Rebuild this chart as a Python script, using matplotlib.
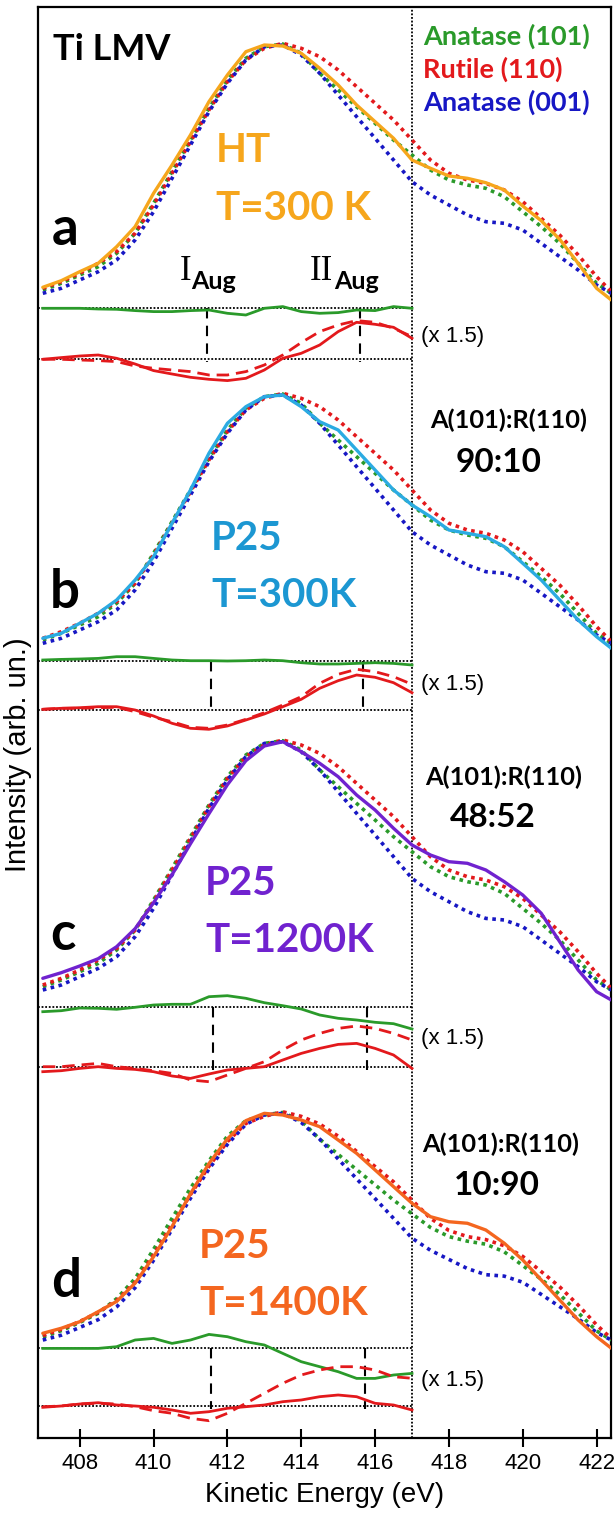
import numpy as np
import matplotlib
matplotlib.use("Agg")
import matplotlib.pyplot as plt

# ---------------- data ----------------
energy = [407.0, 407.5, 408.0, 408.5, 409.0, 409.5, 410.0, 410.5, 411.0, 411.5,
          412.0, 412.5, 413.0, 413.5, 414.0, 414.5, 415.0, 415.5, 416.0, 416.5,
          417.0, 417.5, 418.0, 418.5, 419.0, 419.5, 420.0, 420.5, 421.0, 421.5,
          422.0, 422.4]

# reference spectra as drawn in panels a-c
anatase101 = [5, 11.7, 20, 28.3, 41.7, 61.7, 91.7, 123.3, 155, 186.7, 215, 236.7, 248.3, 251,
              241.7, 221.7, 205, 188.3, 171.7, 155, 140, 125, 115, 110, 106.7, 98.3, 83.3,
              68.3, 51.7, 31.7, 11.7, 1.7]
rutile110 = [6.7, 13.3, 21.7, 31.7, 43.3, 61.7, 90, 121.7, 153.3, 185, 213.3, 235, 246.7, 251.7,
             246.7, 238.3, 225, 208.3, 191.7, 175, 155, 135, 121.7, 115, 111.7, 105, 93.3,
             76.7, 60, 40, 18.3, 3.3]
anatase001 = [1.7, 6.7, 15, 23.3, 35, 55, 83.3, 116.7, 150, 183.3, 211.7, 235, 248.3, 250,
              240, 221.7, 200, 178.3, 156.7, 135, 113.3, 100, 90, 80, 73.3, 71.7, 65,
              51.7, 38.3, 25, 10, 1.7]

# reference spectra as drawn in panel d
anatase101_d = [5, 12, 21, 31, 47, 69, 101, 135, 168, 198, 225, 242, 248.3, 251,
                241.7, 221.7, 205, 188.3, 171.7, 155, 140, 125, 115, 110, 106.7, 98.3, 83.3,
                68.3, 51.7, 31.7, 11.7, 1.7]
rutile110_d = [6.7, 13.5, 22, 32, 45, 65, 95, 128, 161, 192, 219, 239, 246.7, 251.7,
               246.7, 238.3, 225, 208.3, 191.7, 175, 155, 135, 121.7, 115, 111.7, 105, 93.3,
               76.7, 60, 40, 18.3, 3.3]
anatase001_d = [1.7, 7, 15.5, 24, 38, 59, 89, 123, 157, 189, 216, 238, 248.3, 250,
                240, 221.7, 200, 178.3, 156.7, 135, 113.3, 100, 90, 80, 73.3, 71.7, 65,
                51.7, 38.3, 25, 10, 1.7]

ht_300K = [7.7, 14.3, 23.3, 31.7, 48.3, 68.3, 101.7, 130, 160, 193.3, 220, 243.3, 250, 249,
           241.7, 226.7, 210, 190, 173.3, 156.7, 135, 126.7, 119, 116.7, 112.3, 105, 89,
           74.3, 55.7, 31.7, 6.7, -5]
p25_300K = [6.7, 11.7, 21.7, 31.7, 45, 65, 88.3, 121.7, 155, 191.7, 221.7, 238.3, 248.3, 250,
            238.3, 223.3, 215, 195, 175, 155, 140, 128.3, 115, 111.7, 108.3, 98.3, 81.7,
            65, 45, 25, 8.3, -3.3]
p25_1200K = [13.4, 19, 25.7, 33, 45, 63, 89, 117, 148, 178, 207, 231, 245.7, 250,
             240, 228.4, 215, 196.7, 181.7, 163.4, 146.7, 136.7, 130, 128.4, 121.7, 110, 96.7,
             78.4, 50, 21.7, 0, -8.3]
p25_1400K = [9.1, 14.6, 21.8, 32.8, 44, 64, 93, 126, 162, 195, 222, 242, 250,
             248.2, 242.7, 235.4, 220.8, 206.2, 188, 169.7, 151.5, 136.8, 131.3, 129.6, 122.2,
             107.7, 89.4, 67.5, 45.6, 23.7, 5.4, -7.3]

diff_energy = [407.0, 407.5, 408.0, 408.5, 409.0, 409.5, 410.0, 410.5, 411.0, 411.5, 412.0,
               412.5, 413.0, 413.5, 414.0, 414.5, 415.0, 415.5, 416.0, 416.5, 417.0]

diff_a_anatase = [0, 0, 0, -0.7, -1, -2.3, -3.3, -3.3, -2.3, -1.7, -5, -6.7, 0, 1.7, -3.3, -5,
                  -4.3, -1.7, -2.3, 1.7, 0]
diff_a_rutile = [0, 1.7, 3.3, 4.3, 1, -4.7, -11.3, -14.7, -18, -20, -21.3, -19, -10.7, 1, 6,
                 14.3, 27.7, 37, 35, 32, 21]
diff_a_rutile_fit = [0, 0, -0.7, -1.3, -2.3, -6.7, -9, -10.7, -12.3, -15.7, -15.7, -12.3, -5.7,
                     4.3, 16.7, 27.7, 34.3, 38.7, 37, 31, 22.7]

diff_b_anatase = [0.7, 1.3, 1.7, 2.3, 4, 4, 2.3, 0.7, 0, 0, -0.3, 0, 0.7, 0, -2, -3.3, -3.3,
                  -2.7, -2, -2.7, -4.3]
diff_b_rutile = [0.7, 1.7, 2.3, 3.3, 3.3, 0, -6, -13.3, -18.3, -19.3, -16, -10, -4, 3.3, 10.7,
                 21.7, 29.3, 35, 32.7, 27.3, 17.3]
diff_b_rutile_fit = [0.7, 1.7, 1.7, 2.3, 2.7, -1.7, -7.3, -11.7, -17.3, -18.3, -15, -9.3, -2.7,
                     5, 13.3, 26.7, 35.7, 40.7, 38.3, 33.3, 25.7]

diff_c_anatase = [-4.7, -3.7, -1, -1.3, -2.3, -0.3, 2, 2.7, 2.7, 10.3, 11.3, 8.7, 4.3, 1.3, -2,
                  -8, -11.3, -13, -15.3, -16.7, -22]
diff_c_rutile = [-5, -4, -1.7, 0, -1.7, -2.7, -5, -9.3, -11.7, -7.3, -3.3, -1.7, 0, 6.7, 13.3,
                 18.3, 22.3, 23.3, 18.3, 11.7, -1.7]
diff_c_rutile_fit = [0, 0, 1.7, 3.3, 0, -1.7, -4, -6.7, -13.3, -15, -8.3, -1.7, 5, 16.7, 26.7,
                     33.3, 38.3, 40.7, 38.3, 33.3, 26.7]

diff_d_anatase = [-0.7, -0.7, -0.7, -0.7, 1, 7.7, 9.3, 4.3, 7.7, 13.3, 11, 6, 2.7, -5.7, -14,
                  -19, -24, -30.7, -30.7, -27.3, -25.7]
diff_d_rutile = [-1.3, 0, 2, 3.3, 1, 0, -1.3, -4, -7.3, -5.7, -2.3, -0.7, 1, 4.3, 6, 9.3, 11,
                 9.3, 2.7, 1, -4]
diff_d_rutile_fit = [-0.7, 0, 2, 2.7, 2, -0.7, -4.7, -7.3, -12.3, -14.7, -7.3, 2.7, 12.7, 22.7,
                     31, 36, 39.3, 39.3, 36, 29.3, 27.7]

auger_I = [411.45, 411.55, 411.62, 411.55]
auger_II = [415.6, 415.66, 415.77, 415.72]

panel_letters = ["a", "b", "c", "d"]
sample_names = ["HT", "P25", "P25", "P25"]
sample_temps = ["T=300 K", "T=300K", "T=1200K", "T=1400K"]
ratios = [None, "90:10", "48:52", "10:90"]
xticks = [408, 410, 412, 414, 416, 418, 420, 422]

# ---------------- styling / layout ----------------
W, H = 616, 1521
C_GREEN = "#2A9A2A"
C_RED = "#E3191C"
C_BLUE = "#1717C4"
sample_colors = ["#F6A61C", "#2BABE2", "#7022CF", "#F4661F"]
text_colors = ["#F6A61C", "#1C97D2", "#7022CF", "#F4661F"]

spec_offset = [1143, 793, 446.3, 96.4]
spec_scale = [1.0, 1.0, 1.0, 0.913]
green_base = [1129.7, 777.3, 431, 90.3]
red_base = [1078.7, 728, 371.3, 32]

samples = [ht_300K, p25_300K, p25_1200K, p25_1400K]
refs = [(anatase101, rutile110, anatase001)] * 3 + [(anatase101_d, rutile110_d, anatase001_d)]
diffs = [(diff_a_anatase, diff_a_rutile, diff_a_rutile_fit),
         (diff_b_anatase, diff_b_rutile, diff_b_rutile_fit),
         (diff_c_anatase, diff_c_rutile, diff_c_rutile_fit),
         (diff_d_anatase, diff_d_rutile, diff_d_rutile_fit)]

fig = plt.figure(figsize=(W / 100, H / 100), dpi=100)
ax = fig.add_axes([38 / W, 1 - 1438 / H, (611 - 38) / W, (1438 - 7) / H])
XMIN, XMAX = 406.87, 422.39
ax.set_xlim(XMIN, XMAX)
ax.set_ylim(0, 1431)

E = np.array(energy)
dE = np.array(diff_energy)
dot = (0, (1.0, 1.25))

for k in range(4):
    off, s = spec_offset[k], spec_scale[k]
    for ref, col in zip(refs[k], (C_GREEN, C_RED, C_BLUE)):
        ax.plot(E, off + s * np.array(ref), color=col, lw=2.6, linestyle=dot,
                dash_capstyle="butt", zorder=3)
    ax.plot(E, off + s * np.array(samples[k]), color=sample_colors[k], lw=2.4,
            solid_capstyle="round", zorder=4)

    g, r, rf = diffs[k]
    ax.plot([XMIN, 417.0], [green_base[k]] * 2, color="black", lw=1.3,
            linestyle=(0, (1, 1)), zorder=2)
    ax.plot([XMIN, 417.0], [red_base[k]] * 2, color="black", lw=1.3,
            linestyle=(0, (1, 1)), zorder=2)
    for xe in (auger_I[k], auger_II[k]):
        ax.plot([xe, xe], [green_base[k], red_base[k] - 3], color="black", lw=1.5,
                linestyle=(0, (5, 3.5)), zorder=2)
    ax.plot(dE, green_base[k] + np.array(g), color=C_GREEN, lw=2.0, zorder=3)
    ax.plot(dE, red_base[k] + np.array(rf), color=C_RED, lw=2.0,
            linestyle=(0, (4.5, 2.5)), zorder=3)
    ax.plot(dE, red_base[k] + np.array(r), color=C_RED, lw=2.0, zorder=3)

ax.axvline(417.0, color="black", lw=1.3, linestyle=(0, (1, 1)), zorder=1)

for sp in ax.spines.values():
    sp.set_linewidth(1.6)
ax.set_yticks([])
ax.set_xticks(xticks)
ax.tick_params(axis="x", direction="inout", length=13, width=1.5, labelsize=16, pad=4)
for lab in ax.get_xticklabels():
    lab.set_fontfamily("Liberation Sans")
ax.set_xlabel("Kinetic Energy (eV)", fontsize=20, fontfamily="Liberation Sans", labelpad=6)


def ftext(x, y, s, **kw):
    fig.text(x / W, 1 - y / H, s, **kw)


SANS_B = dict(fontfamily="Lato", fontweight="bold")

ftext(18, 755, "Intensity (arb. un.)", rotation=90, ha="center", va="center",
      fontsize=21, fontfamily="Liberation Sans")

ftext(53, 60, "Ti LMV", fontsize=26, color="black", ha="left", va="baseline", **SANS_B)
ftext(423, 45, "Anatase (101)", fontsize=19.5, color=C_GREEN, ha="left", va="baseline", **SANS_B)
ftext(423, 78, "Rutile (110)", fontsize=19.5, color=C_RED, ha="left", va="baseline", **SANS_B)
ftext(423, 111, "Anatase (001)", fontsize=19.5, color=C_BLUE, ha="left", va="baseline", **SANS_B)

letter_pos = [(52, 245), (50, 608), (50, 950), (51, 1297)]
name_pos = [(216, 162), (211, 550), (205, 895), (199, 1258)]
temp_pos = [(216, 220), (211, 607), (205, 952), (199, 1315)]
for k in range(4):
    ftext(*letter_pos[k], panel_letters[k], fontsize=38, color="black", ha="left",
          va="baseline", **SANS_B)
    ftext(*name_pos[k], sample_names[k], fontsize=29, color=text_colors[k], ha="left",
          va="baseline", **SANS_B)
    ftext(*temp_pos[k], sample_temps[k], fontsize=29, color=text_colors[k], ha="left",
          va="baseline", **SANS_B)

x15_base = [342, 690, 1044, 1386]
for k in range(4):
    ftext(421, x15_base[k], "(x 1.5)", fontsize=16, color="black", ha="left",
          va="baseline", fontfamily="Liberation Sans")

ratio_lab_pos = [None, (430, 428), (425, 785), (422, 1152)]
ratio_pos = [None, (456, 472), (450, 827), (454, 1195)]
for k in range(1, 4):
    ftext(*ratio_lab_pos[k], "A(101):R(110)", fontsize=18.3, color="black", ha="left",
          va="baseline", **SANS_B)
    ftext(*ratio_pos[k], ratios[k], fontsize=24, color="black", ha="left",
          va="baseline", **SANS_B)

ftext(180, 280, "I", fontsize=25, fontfamily="Liberation Serif", ha="left", va="baseline")
ftext(191, 289, "Aug", fontsize=18, ha="left", va="baseline", **SANS_B)
ftext(310, 280, "II", fontsize=25, fontfamily="Liberation Serif", ha="left", va="baseline")
ftext(334, 289, "Aug", fontsize=18, ha="left", va="baseline", **SANS_B)

fig.savefig("out.png", dpi=100)
